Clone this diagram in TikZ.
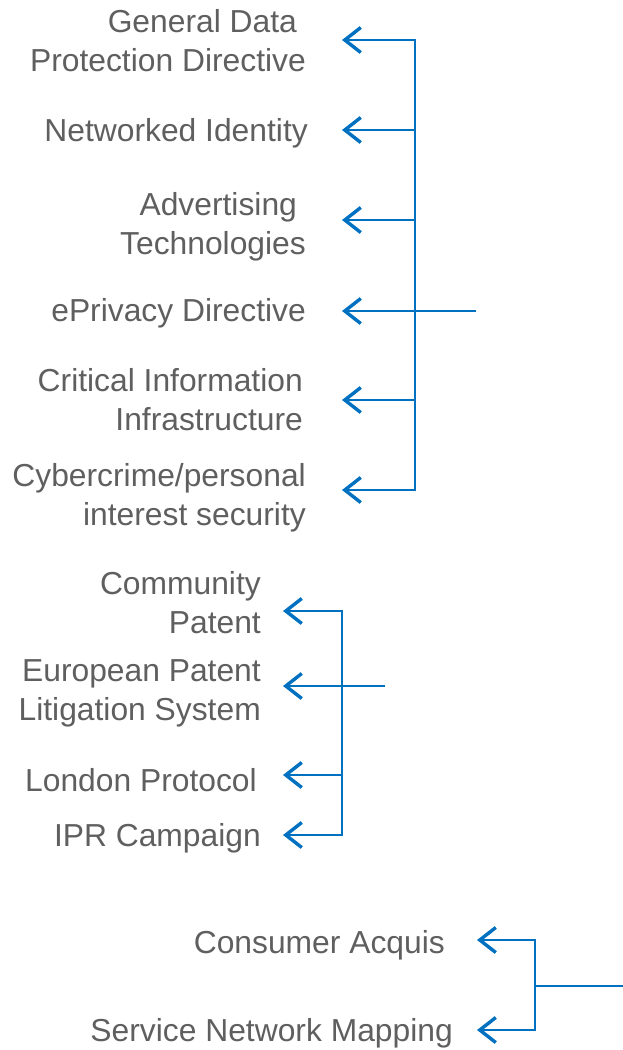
\documentclass[tikz,border=0pt]{standalone}
\usepackage{fontspec}
\setmainfont{Liberation Sans}
\usetikzlibrary{arrows.meta}
\definecolor{txtgray}{RGB}{95,95,95}
\definecolor{linkblue}{RGB}{0,112,192}
\begin{document}
\begin{tikzpicture}[x=1pt,y=-1pt,
  lbl/.style={anchor=east,align=right,inner sep=0pt,text=txtgray,font=\fontsize{31.8}{39}\selectfont},
  link/.style={draw=linkblue,line width=1.6pt},
  arr/.style={link,-{Straight Barb[length=16pt,width=25pt,line width=3.4pt]}}]
\useasboundingbox (0,0) rectangle (623,1050);
% group 1
\node[lbl] (gdp) at (306,41) {General Data\kern0.28em\\Protection Directive};
\node[lbl] (nid) at (308,133) {Networked Identity};
\node[lbl] (adt) at (306,227) {Advertising\kern0.28em\\Technologies};
\node[lbl] (epd) at (306,313) {ePrivacy Directive};
\node[lbl] (cii) at (303,400) {Critical Information\\Infrastructure};
\node[lbl] (cyb) at (306,498) {Cybercrime/personal\\interest security};
\coordinate (t1) at (342,40);
\coordinate (t2) at (342,130);
\coordinate (t3) at (342,220);
\coordinate (t4) at (342,311);
\coordinate (t5) at (342,400);
\coordinate (t6) at (342,490);
\coordinate (h1) at (415,311);
\coordinate (s1) at (476,311);
\draw[link] (415,40) -- (415,490);
\foreach \t in {t1,t2,t3,t5,t6} \draw[arr] (h1) |- (\t);
\draw[arr] (s1) -- (t4);
% group 2
\node[lbl] (cp) at (261,603) {Community\\Patent};
\node[lbl] (epl) at (261,693) {European Patent\\Litigation System};
\node[lbl] (lp) at (257,780) {London Protocol};
\node[lbl] (ipr) at (261,838) {IPR Campaign};
\coordinate (u1) at (283,611);
\coordinate (u2) at (283,686);
\coordinate (u3) at (283,775);
\coordinate (u4) at (283,835);
\coordinate (h2) at (342,686);
\coordinate (s2) at (385,686);
\draw[link] (342,611) -- (342,835);
\foreach \t in {u1,u3,u4} \draw[arr] (h2) |- (\t);
\draw[arr] (s2) -- (u2);
% group 3
\node[lbl] (ca) at (445,945) {Consumer Acquis};
\node[lbl] (snm) at (453,1033) {Service Network Mapping};
\coordinate (v1) at (477,940);
\coordinate (v2) at (477,1030);
\coordinate (h3) at (535,986);
\coordinate (s3) at (623,986);
\draw[link] (s3) -- (h3);
\foreach \t in {v1,v2} \draw[arr] (h3) |- (\t);
\end{tikzpicture}
\end{document}
